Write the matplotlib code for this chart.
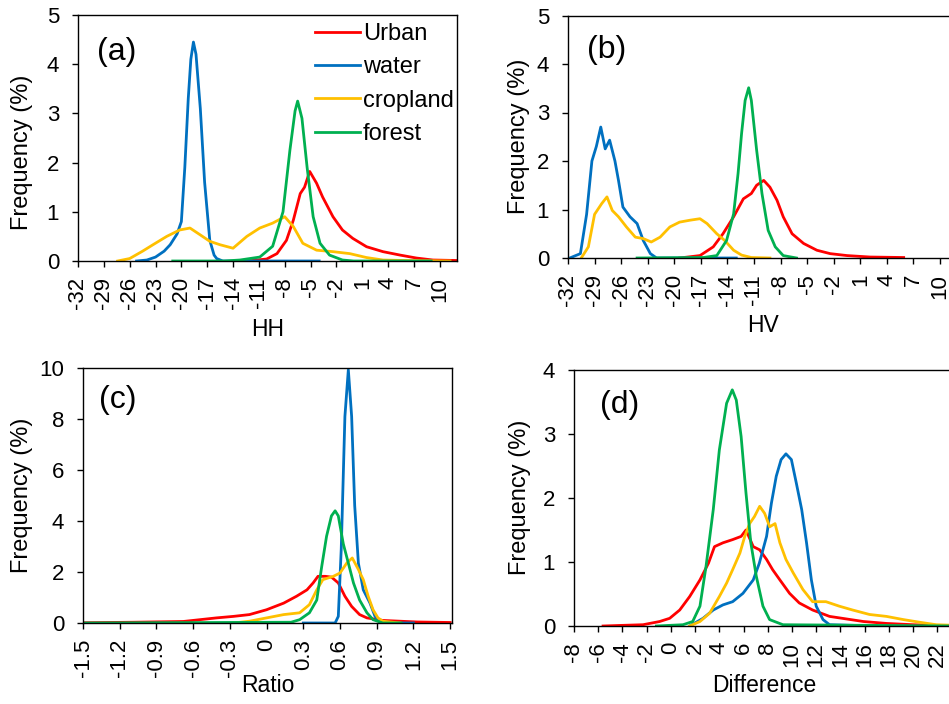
import matplotlib
matplotlib.use("Agg")
import matplotlib.pyplot as plt
import numpy as np

plt.rcParams['font.family'] = ['Liberation Sans', 'DejaVu Sans']

# colours (Excel standard palette)
C_URBAN = '#FF0000'
C_WATER = '#0070C0'
C_CROP = '#FFC000'
C_FOREST = '#00B050'

names = ['Urban', 'water', 'cropland', 'forest']

# ---- (a) HH ----
hh_urban_x = [-12.4, -10.1, -8.9, -7.8, -7.0, -6.2, -5.7, -5.1, -4.3, -3.6, -2.4, -1.3, -0.1, 1.5, 3.4, 5.4, 7.3, 9.2, 12]
hh_urban_y = [0, 0.04, 0.15, 0.42, 0.83, 1.37, 1.5, 1.82, 1.58, 1.3, 0.9, 0.63, 0.46, 0.29, 0.19, 0.12, 0.06, 0.02, 0.01]
hh_water_x = [-25.2, -24, -23, -22, -21.3, -20.5, -20.0, -19.6, -19.2, -18.9, -18.6, -18.3, -17.8, -17.3, -16.7, -16.2, -15.9, -15.2, -4]
hh_water_y = [0, 0.02, 0.08, 0.2, 0.33, 0.55, 0.8, 1.9, 3.3, 4.1, 4.45, 4.2, 3.1, 1.6, 0.42, 0.12, 0.05, 0, 0]
hh_crop_x = [-27.4, -26, -24.5, -23.3, -21.7, -20.2, -19.0, -17.8, -16.7, -15.5, -14.0, -12.4, -10.9, -9.4, -8.0, -7.0, -5.9, -4.3, -2.4, -0.45, 1.5, 3.4, 6, 11.2]
hh_crop_y = [0, 0.05, 0.2, 0.33, 0.5, 0.63, 0.67, 0.53, 0.4, 0.33, 0.26, 0.5, 0.67, 0.77, 0.9, 0.7, 0.36, 0.22, 0.19, 0.15, 0.07, 0.02, 0.01, 0]
hh_forest_x = [-21, -15, -13.2, -10.9, -9.4, -8.2, -7.4, -6.8, -6.5, -6.0, -5.4, -4.7, -3.9, -2.8, -1.3, 0, 9]
hh_forest_y = [0, 0, 0.02, 0.08, 0.3, 1.0, 2.25, 3.05, 3.25, 2.9, 1.9, 0.9, 0.36, 0.12, 0.02, 0, 0]

# ---- (b) HV ----
hv_urban_x = [-19.4, -17.1, -15.6, -14.5, -13.3, -12.2, -11.3, -10.7, -9.9, -9.2, -8.4, -7.7, -6.7, -5.4, -3.9, -2.4, -0.5, 2.1, 5.9]
hv_urban_y = [0, 0.05, 0.23, 0.5, 0.85, 1.22, 1.33, 1.5, 1.6, 1.46, 1.19, 0.85, 0.5, 0.3, 0.16, 0.09, 0.05, 0.02, 0.01]
hv_water_x = [-31.8, -30.6, -29.9, -29.3, -28.8, -28.3, -27.8, -27.3, -26.7, -26.3, -25.8, -25.0, -24.2, -23.5, -22.7, -22.0, -13]
hv_water_y = [0, 0.09, 0.9, 2.0, 2.3, 2.7, 2.25, 2.43, 2.0, 1.6, 1.05, 0.85, 0.71, 0.36, 0.09, 0, 0]
hv_crop_x = [-30.5, -29.7, -29.0, -28.2, -27.6, -27.0, -26.3, -25.4, -24.4, -23.5, -22.6, -21.6, -20.5, -19.4, -18.2, -17.1, -16.3, -15.2, -14.3, -13.3, -12.4, -11.3, -9.2]
hv_crop_y = [0, 0.23, 0.9, 1.12, 1.26, 0.98, 0.85, 0.64, 0.43, 0.4, 0.33, 0.43, 0.64, 0.74, 0.78, 0.81, 0.71, 0.5, 0.36, 0.16, 0.06, 0.01, 0]
hv_forest_x = [-24.2, -16.7, -15.2, -14.1, -13.3, -12.8, -12.4, -12.0, -11.6, -11.3, -10.7, -10.1, -9.4, -8.6, -7.7, -6.2]
hv_forest_y = [0, 0.01, 0.05, 0.36, 0.91, 1.74, 2.57, 3.25, 3.51, 3.25, 2.22, 1.33, 0.57, 0.23, 0.05, 0]

# ---- (c) Ratio ----
ra_urban_x = [-1.5, -1.09, -0.68, -0.41, -0.27, -0.14, 0.0, 0.14, 0.245, 0.33, 0.38, 0.42, 0.48, 0.53, 0.586, 0.64, 0.695, 0.76, 0.82, 0.95, 1.23, 1.5]
ra_urban_y = [0.01, 0.03, 0.06, 0.2, 0.26, 0.33, 0.52, 0.78, 1.05, 1.3, 1.57, 1.83, 1.83, 1.8, 1.57, 1.05, 0.65, 0.33, 0.2, 0.1, 0.04, 0.02]
ra_water_x = [0.3, 0.56, 0.586, 0.61, 0.64, 0.668, 0.695, 0.72, 0.75, 0.79, 0.845, 0.886, 0.93, 1.2]
ra_water_y = [0, 0, 0.26, 2.9, 8.1, 9.93, 8.1, 4.6, 2.35, 1.3, 0.78, 0.26, 0, 0]
ra_crop_x = [-0.27, -0.14, 0.0, 0.14, 0.27, 0.35, 0.41, 0.46, 0.545, 0.6, 0.655, 0.7, 0.75, 0.79, 0.83, 0.87, 0.91, 0.95, 1.09]
ra_crop_y = [0, 0.07, 0.2, 0.33, 0.4, 0.72, 1.3, 1.7, 1.83, 1.96, 2.35, 2.55, 2.1, 1.7, 1.05, 0.52, 0.2, 0.07, 0]
ra_forest_x = [-1.5, 0.2, 0.27, 0.35, 0.41, 0.45, 0.49, 0.53, 0.56, 0.586, 0.627, 0.668, 0.71, 0.76, 0.82, 0.87, 0.95, 1.1]
ra_forest_y = [0, 0.03, 0.13, 0.4, 0.9, 2.2, 3.4, 4.2, 4.4, 4.2, 3.1, 2.35, 1.57, 0.9, 0.4, 0.13, 0, 0]

# ---- (d) Difference ----
di_urban_x = [-5.6, -4, -2.3, -0.93, -0.1, 0.73, 1.55, 2.4, 3.1, 3.6, 4.3, 5.1, 5.8, 6.2, 6.8, 7.33, 7.9, 8.4, 9.0, 9.8, 10.6, 11.7, 13.1, 14.5, 15.9, 17.8, 20, 21.9]
di_urban_y = [0, 0.01, 0.02, 0.07, 0.12, 0.25, 0.46, 0.72, 0.98, 1.24, 1.3, 1.35, 1.4, 1.5, 1.24, 1.19, 1.04, 0.88, 0.72, 0.51, 0.36, 0.25, 0.15, 0.11, 0.07, 0.04, 0.02, 0.01]
di_water_x = [1.55, 2.65, 3.5, 4.3, 5.1, 5.95, 6.8, 7.3, 7.9, 8.3, 8.7, 9.1, 9.5, 9.95, 10.36, 10.8, 11.2, 11.6, 12.0, 12.56, 13.1, 17]
di_water_y = [0, 0.12, 0.25, 0.33, 0.38, 0.51, 0.72, 0.98, 1.4, 1.92, 2.34, 2.6, 2.69, 2.6, 2.23, 1.82, 1.3, 0.72, 0.31, 0.1, 0.02, 0]
di_crop_x = [1.55, 2.4, 3.2, 4.0, 4.6, 5.1, 5.7, 6.1, 6.5, 6.9, 7.33, 7.74, 8.16, 8.6, 9.0, 9.5, 10.1, 10.9, 11.7, 12.8, 13.9, 15.0, 16.4, 17.8, 19.2, 20.5, 21.9, 23.5]
di_crop_y = [0, 0.07, 0.2, 0.46, 0.67, 0.88, 1.14, 1.4, 1.6, 1.71, 1.87, 1.76, 1.55, 1.6, 1.3, 1.04, 0.83, 0.57, 0.38, 0.38, 0.31, 0.25, 0.18, 0.15, 0.1, 0.06, 0.02, 0.01]
di_forest_x = [-1.2, 1.0, 1.8, 2.4, 2.9, 3.5, 4.0, 4.6, 5.07, 5.4, 5.8, 6.2, 6.6, 7.05, 7.6, 8.15, 9.25, 23.5]
di_forest_y = [0, 0.02, 0.07, 0.31, 0.93, 1.82, 2.75, 3.48, 3.69, 3.53, 2.96, 2.08, 1.3, 0.78, 0.31, 0.1, 0.02, 0]


W, H = 949, 704
fig = plt.figure(figsize=(W / 100, H / 100), dpi=100)


def box(l, t, r, b):
    # pixel box -> figure fraction
    return [l / W, 1 - b / H, (r - l) / W, (b - t) / H]


def panel(rect, series, xlim, xticks, ylim, yticks, xlabel, tag, tagpos, ylab_pos, xlab_y):
    ax = fig.add_axes(rect)
    cols = [C_URBAN, C_WATER, C_CROP, C_FOREST]
    for (xs, ys), c, n in zip(series, cols, names):
        ax.plot(xs, ys, color=c, lw=2.0, label=n)
    ax.set_xlim(*xlim)
    ax.set_ylim(*ylim)
    ax.set_xticks(xticks)
    ax.set_xticklabels([('%g' % v) for v in xticks], rotation=90)
    ax.set_yticks(yticks)
    ax.tick_params(axis='x', direction='out', length=4.5, width=1, pad=7, labelsize=16)
    ax.tick_params(axis='y', direction='out', length=4.5, width=1, pad=9, labelsize=16)
    for s in ax.spines.values():
        s.set_linewidth(1.0)
    ax.set_ylabel('Frequency (%)', fontsize=17)
    ax.yaxis.set_label_coords(*ylab_pos)
    ax.set_xlabel(xlabel, fontsize=16.5)
    ax.xaxis.set_label_coords(0.5, xlab_y)
    ax.text(tagpos[0], tagpos[1], tag, transform=ax.transAxes, fontsize=23,
            ha='left', va='center')
    return ax


ax_a = panel(box(78, 15, 457, 261),
             [(hh_urban_x, hh_urban_y), (hh_water_x, hh_water_y),
              (hh_crop_x, hh_crop_y), (hh_forest_x, hh_forest_y)],
             (-32, 12), list(range(-32, 11, 3)), (0, 5), range(0, 6),
             'HH', '(a)', (0.05, 0.85), (-0.119, 0.443), -0.232)
ax_a.legend(loc='upper left', bbox_to_anchor=(0.625, 0.968), frameon=False,
            fontsize=17, handlelength=1.9, handletextpad=0.13, labelspacing=0.48,
            borderpad=0, borderaxespad=0)

panel(box(568, 15.5, 957.7, 258),
      [(hv_urban_x, hv_urban_y), (hv_water_x, hv_water_y),
       (hv_crop_x, hv_crop_y), (hv_forest_x, hv_forest_y)],
      (-32, 12), list(range(-32, 11, 3)), (0, 5), range(0, 6),
      'HV', '(b)', (0.049, 0.858), (-0.0975, 0.5), -0.231)

panel(box(83, 368, 452, 623),
      [(ra_urban_x, ra_urban_y), (ra_water_x, ra_water_y),
       (ra_crop_x, ra_crop_y), (ra_forest_x, ra_forest_y)],
      (-1.5, 1.515), [round(v, 1) for v in np.arange(-1.5, 1.51, 0.3)], (0, 10), range(0, 11, 2),
      'Ratio', '(c)', (0.043, 0.875), (-0.1355, 0.502), -0.2)

panel(box(574, 370, 955.5, 626),
      [(di_urban_x, di_urban_y), (di_water_x, di_water_y),
       (di_crop_x, di_crop_y), (di_forest_x, di_forest_y)],
      (-8, 23.5), list(range(-8, 23, 2)), (0, 4), range(0, 5),
      'Difference', '(d)', (0.067, 0.863), (-0.1135, 0.504), -0.1875)

fig.savefig('out.png', dpi=100)
